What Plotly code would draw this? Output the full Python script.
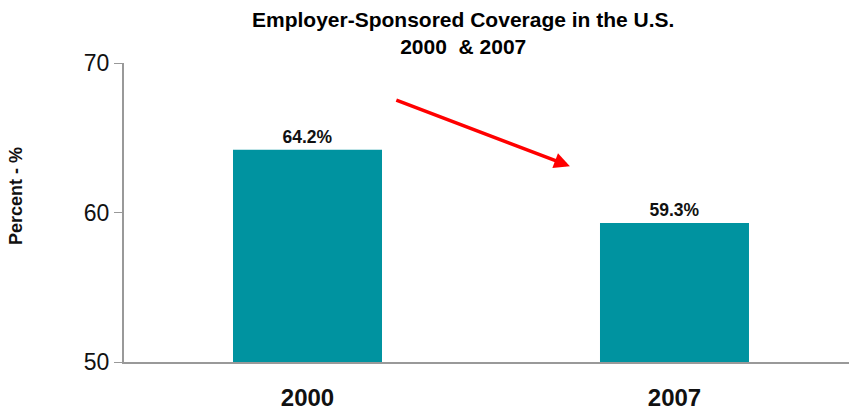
import plotly.graph_objects as go

years = ["2000", "2007"]
coverage = [64.2, 59.3]
labels = ["64.2%", "59.3%"]
y_ticks = [50, 60, 70]

fig = go.Figure()
fig.add_trace(go.Bar(
    x=[0, 1], y=coverage, width=0.406,
    marker=dict(color="#0093A0", line=dict(width=0)),
    text=labels, textposition="outside", cliponaxis=False,
    textfont=dict(family="Liberation Sans", size=17.5, color="#111111"),
    texttemplate="<b>%{text}</b>",
))

fig.add_annotation(
    x=0.715, y=63.1, ax=0.238, ay=67.55,
    xref="x", yref="y", axref="x", ayref="y",
    showarrow=True, arrowhead=2, arrowsize=0.9, arrowwidth=3.5,
    arrowcolor="#FF0000", text="",
)

fig.add_annotation(
    text="<b>Employer-Sponsored Coverage in the U.S.<br>2000  &amp; 2007</b>",
    xref="paper", yref="paper", x=0.468, y=1, xanchor="center", yanchor="bottom",
    yshift=3, showarrow=False,
    font=dict(family="Liberation Sans", size=21, color="#000000"),
)

fig.add_annotation(
    text="<b>Percent - %</b>", textangle=-90,
    xref="paper", yref="paper", x=-0.149, y=0.555,
    xanchor="center", yanchor="middle", showarrow=False,
    font=dict(family="Liberation Sans", size=18, color="#111111"),
)

fig.update_layout(
    width=849, height=412,
    margin=dict(l=124, r=0, t=63, b=50),
    paper_bgcolor="white", plot_bgcolor="white",
    showlegend=False,
    font=dict(family="Liberation Sans", color="#111111"),
    xaxis=dict(
        range=[-0.5, 1.4755],
        tickvals=[0, 1], ticktext=["<b>%s</b>" % y for y in years],
        tickfont=dict(size=24, color="#111111"),
        showgrid=False, zeroline=False,
        showline=True, linecolor="#999999", linewidth=2,
        ticks="", ticklabelstandoff=13,
    ),
    yaxis=dict(
        range=[50, 70], tickvals=y_ticks,
        ticktext=[str(v) for v in y_ticks],
        tickfont=dict(size=23, color="#111111"),
        showgrid=False, zeroline=False,
        showline=True, linecolor="#999999", linewidth=2,
        ticks="outside", ticklen=8, tickcolor="#999999", tickwidth=1,
    ),
)

fig.write_html("out.html")
